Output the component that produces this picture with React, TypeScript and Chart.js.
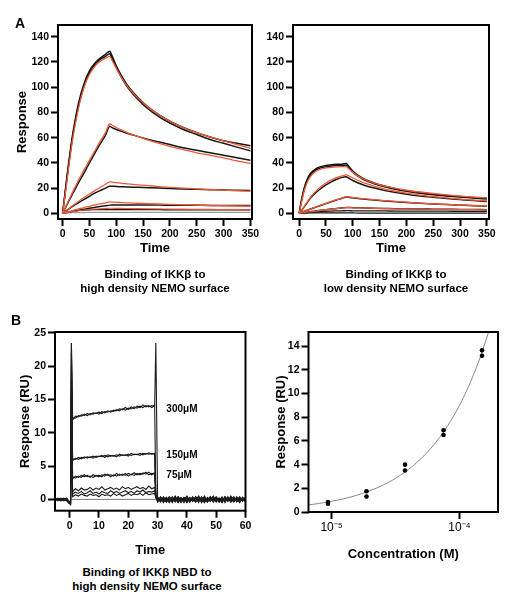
import React, { useEffect, useRef } from "react";
import { Chart, registerables } from "chart.js";
Chart.register(...registerables);

// ---------- fonts / colours ----------
const SANS = '"Liberation Sans", Arial, Helvetica, sans-serif';
const RED = "#ee5a36";
const BLACK = "#151515";
const GREY = "#9a9a9a";

// ---------- panel A data (time in s, response) ----------
const timeA = [0, 5, 10, 15, 20, 30, 40, 50, 60, 70, 80, 88, 92, 100, 110, 120, 140, 160, 180, 200, 225, 250, 275, 300, 325, 350];

// high density surface
const hiBlack1 = [0, 18, 36, 52, 66, 88, 103, 113, 119, 123, 126, 128.5, 125, 117, 109, 102, 92, 84, 78, 73, 68, 64, 60.5, 57.5, 55.5, 53.5];
const hiBlack2 = [0, 17, 34, 50, 64, 86, 101, 111.5, 118, 122, 124.5, 126.5, 123, 115.5, 107.5, 100.5, 90.5, 82.5, 76.5, 71.5, 66.5, 62.5, 58.5, 55.5, 52.5, 49.5];
const hiRed1 = [0, 15, 32, 48, 62, 84, 100, 110, 116.5, 120.5, 123, 124.5, 121.5, 115, 107.5, 101, 91.5, 84, 78, 73, 68, 64, 60.5, 57.5, 54.5, 51.5];
const hiBlack3 = [0, 4, 8.5, 12.5, 16.5, 24.5, 32, 40, 47.5, 55, 62, 69, 68, 66.5, 65, 63.5, 61, 58.5, 56.5, 54.5, 52, 50, 48, 46, 44, 42];
const hiRed2 = [0, 4.5, 9, 13.5, 18, 26.5, 34.5, 42, 49.5, 57, 64, 71, 70, 68, 66, 64, 61, 58, 55.5, 53, 50.5, 48, 46, 44, 41.5, 39.5];
const hiBlack4 = [0, 1.5, 3, 4.5, 6, 8.5, 11, 13.5, 16, 18, 20, 21.5, 21.5, 21.3, 21.1, 20.9, 20.6, 20.3, 20, 19.7, 19.3, 19, 18.7, 18.4, 18.2, 18];
const hiRed3 = [0, 1.6, 3.2, 4.8, 6.5, 9.5, 12.5, 15.3, 18, 20.5, 23, 25, 24.8, 24.3, 23.8, 23.4, 22.6, 21.9, 21.2, 20.6, 20, 19.4, 18.9, 18.4, 17.9, 17.5];
const hiBlack5 = [0, 0.4, 0.8, 1.2, 1.6, 2.4, 3.2, 4, 4.7, 5.4, 6, 6.5, 6.6, 6.6, 6.6, 6.6, 6.5, 6.5, 6.5, 6.4, 6.4, 6.4, 6.3, 6.3, 6.3, 6.3];
const hiRed4 = [0, 0.6, 1.2, 1.8, 2.4, 3.5, 4.6, 5.6, 6.6, 7.5, 8.3, 9, 8.9, 8.7, 8.5, 8.3, 8, 7.7, 7.4, 7.1, 6.8, 6.5, 6.2, 6, 5.8, 5.6];
const hiBlack6 = [0, 0.5, 1, 1.4, 1.8, 2.3, 2.6, 2.8, 2.9, 3, 3, 3, 3, 3, 3, 3, 2.9, 2.9, 2.9, 2.8, 2.8, 2.8, 2.7, 2.7, 2.7, 2.7];
const hiRed5 = [0, 0.4, 0.8, 1.2, 1.5, 2.1, 2.6, 3, 3.3, 3.6, 3.8, 4, 4, 3.9, 3.9, 3.8, 3.7, 3.6, 3.5, 3.4, 3.3, 3.2, 3.1, 3, 2.9, 2.8];
const hiBase = [0, 0.2, 0.3, 0.4, 0.5, 0.6, 0.6, 0.7, 0.7, 0.7, 0.7, 0.7, 0.7, 0.7, 0.7, 0.7, 0.7, 0.7, 0.7, 0.7, 0.7, 0.7, 0.7, 0.7, 0.7, 0.7];

// low density surface
const loBlack1 = [0, 12, 21, 27, 31, 35, 37, 38, 38.5, 39, 39, 39.5, 37.5, 33.5, 30, 27.5, 24, 21.5, 19.5, 18, 16.5, 15.2, 14.2, 13.3, 12.6, 12];
const loBlack2 = [0, 11, 20, 26, 30, 34, 36, 37, 37.5, 38, 38, 38.2, 36.5, 32.5, 29.2, 26.8, 23.4, 21, 19, 17.5, 16, 14.8, 13.8, 12.9, 12.1, 11.4];
const loRed1 = [0, 10, 18.5, 24.5, 28.5, 33, 35, 36, 36.5, 36.8, 37, 37, 35.5, 32.5, 29.5, 27.2, 24, 21.6, 19.8, 18.3, 16.9, 15.7, 14.6, 13.7, 12.9, 12.2];
const loBlack3 = [0, 2.5, 5.5, 8.5, 11.5, 16, 19.5, 22.5, 25, 27, 28.5, 29, 28, 26, 24, 22.5, 20, 18, 16.5, 15.2, 13.8, 12.7, 11.7, 10.9, 10.1, 9.4];
const loRed2 = [0, 2.7, 5.8, 9, 12, 17, 21, 24, 26.5, 28.3, 29.7, 30.5, 29.8, 28, 26, 24.3, 21.5, 19.2, 17.5, 16, 14.5, 13.3, 12.2, 11.3, 10.5, 9.8];
const loBlack4 = [0, 0.8, 1.6, 2.4, 3.2, 4.7, 6.2, 7.7, 9.2, 10.6, 12, 13, 12.8, 12.3, 11.8, 11.3, 10.5, 9.8, 9.2, 8.6, 8, 7.4, 6.9, 6.5, 6.1, 5.8];
const loRed3 = [0, 0.85, 1.7, 2.5, 3.3, 4.9, 6.4, 7.9, 9.4, 10.8, 12.1, 13.2, 13, 12.6, 12.1, 11.6, 10.8, 10.1, 9.4, 8.8, 8.1, 7.5, 7, 6.6, 6.2, 5.9];
const loBlack5 = [0, 0.3, 0.6, 0.9, 1.2, 1.8, 2.4, 2.9, 3.4, 3.9, 4.3, 4.6, 4.6, 4.5, 4.4, 4.3, 4.1, 3.9, 3.7, 3.6, 3.4, 3.3, 3.2, 3.1, 3, 2.9];
const loRed4 = [0, 0.3, 0.6, 0.9, 1.2, 1.8, 2.4, 2.9, 3.4, 3.8, 4.2, 4.5, 4.5, 4.4, 4.3, 4.2, 4, 3.8, 3.6, 3.5, 3.3, 3.2, 3.1, 3, 2.9, 2.8];
const loBlack6 = [0, 0.2, 0.4, 0.6, 0.8, 1.1, 1.4, 1.6, 1.8, 1.9, 2, 2.1, 2.1, 2, 2, 2, 1.9, 1.9, 1.8, 1.8, 1.7, 1.7, 1.7, 1.6, 1.6, 1.6];
const loBase = [0, 0.1, 0.2, 0.2, 0.3, 0.3, 0.3, 0.3, 0.3, 0.3, 0.3, 0.3, 0.3, 0.3, 0.2, 0.2, 0.2, 0.2, 0.2, 0.2, 0.2, 0.2, 0.2, 0.2, 0.2, 0.2];

const ticksAX = [0, 50, 100, 150, 200, 250, 300, 350];
const ticksAY = [0, 20, 40, 60, 80, 100, 120, 140];

// ---------- panel B left: NBD sensorgrams ----------
const bTime = [
  -5, -4, -3, -2, -1, -0.4, 0.3, 0.6,
  1, 2, 3, 4, 5, 6, 7, 8, 9, 10, 11, 12, 13, 14, 15, 16, 17, 18, 19, 20, 21, 22, 23, 24, 25, 26, 27, 28, 29,
  29.4,
  30, 31, 32, 33, 34, 35, 36, 37, 38, 39, 40, 41, 42, 43, 44, 45, 46, 47, 48, 49, 50, 51, 52, 53, 54, 55, 56, 57, 58, 59, 60,
];
const b300a = [
  0.1, -0.1, 0.2, 0, -0.2, -0.5, -0.7, 23.5,
  11.9, 12.5, 12.4, 12.7, 12.6, 12.9, 12.7, 13.0, 12.9, 13.1, 12.9, 13.2, 13.1, 13.3, 13.2, 13.5, 13.3, 13.6, 13.4, 13.7, 13.6, 13.9, 13.7, 14.0, 13.8, 14.1, 13.9, 14.1, 14.0,
  23.5,
  0.4, -0.3, 0.2, -0.4, 0.3, -0.2, 0.5, -0.3, 0.1, -0.5, 0.3, -0.1, 0.4, -0.4, 0.2, -0.2, 0.5, -0.3, 0.3, -0.1, 0.4, -0.4, 0.2, -0.3, 0.4, -0.2, 0.3, -0.4, 0.2, -0.1, 0.3,
];
const b300b = [
  -0.1, 0.1, -0.2, 0.1, 0, -0.3, -0.5, 22,
  12.3, 12.2, 12.6, 12.5, 12.8, 12.6, 12.9, 12.8, 13.0, 12.8, 13.2, 13.0, 13.3, 13.1, 13.4, 13.3, 13.6, 13.5, 13.8, 13.5, 13.9, 13.6, 14.0, 13.8, 14.2, 13.9, 14.1, 13.8, 14.1,
  0.8,
  -0.2, 0.3, -0.5, 0.2, -0.3, 0.4, -0.4, 0.1, -0.2, 0.3, -0.5, 0.2, -0.3, 0.4, -0.1, 0.3, -0.4, 0.2, -0.2, 0.5, -0.3, 0.1, -0.4, 0.3, -0.2, 0.4, -0.3, 0.2, -0.5, 0.3, -0.2,
];
const b150a = [
  0, 0.2, -0.1, 0.1, -0.1, -0.4, -0.6, 23.5,
  5.8, 6.2, 6.0, 6.3, 6.2, 6.4, 6.3, 6.5, 6.3, 6.5, 6.4, 6.6, 6.4, 6.6, 6.5, 6.7, 6.5, 6.7, 6.6, 6.8, 6.6, 6.8, 6.7, 6.9, 6.7, 6.9, 6.8, 6.9, 6.8,
  0.6,
  0.2, -0.4, 0.3, -0.1, 0.4, -0.3, 0.2, -0.5, 0.3, -0.2, 0.1, -0.4, 0.3, -0.2, 0.5, -0.1, 0.2, -0.4, 0.3, -0.3, 0.1, -0.2, 0.4, -0.5, 0.2, -0.1, 0.3, -0.3, 0.4, -0.2, 0.1,
];
const b150b = [
  0.1, -0.2, 0.1, -0.1, 0.2, -0.2, -0.4, 18,
  6.1, 6.0, 6.3, 6.1, 6.4, 6.2, 6.4, 6.2, 6.5, 6.4, 6.6, 6.3, 6.7, 6.5, 6.6, 6.4, 6.8, 6.6, 6.7, 6.5, 6.9, 6.7, 6.8, 6.6, 6.9, 6.8, 7.0, 6.8, 6.9,
  0.5,
  -0.4, 0.1, -0.2, 0.3, -0.5, 0.2, -0.1, 0.4, -0.3, 0.2, -0.4, 0.3, -0.1, 0.2, -0.5, 0.4, -0.2, 0.1, -0.3, 0.3, -0.4, 0.2, -0.1, 0.3, -0.3, 0.5, -0.2, 0.1, -0.4, 0.2, -0.3,
];
const b75a = [
  -0.2, 0, 0.1, -0.1, 0.1, -0.5, -0.8, 20,
  3.1, 3.5, 3.3, 3.6, 3.4, 3.6, 3.3, 3.7, 3.5, 3.6, 3.4, 3.8, 3.6, 3.7, 3.5, 3.9, 3.6, 3.8, 3.6, 3.9, 3.7, 4.0, 3.7, 3.9, 3.8, 4.1, 3.7, 3.9, 3.8,
  0.4,
  0.3, -0.1, 0.2, -0.4, 0.1, -0.2, 0.4, -0.3, 0.2, -0.1, 0.5, -0.4, 0.2, -0.2, 0.3, -0.5, 0.1, -0.3, 0.4, -0.2, 0.2, -0.4, 0.1, -0.1, 0.3, -0.4, 0.2, -0.2, 0.3, -0.3, 0.2,
];
const b75b = [
  0.2, -0.1, 0, 0.2, -0.1, -0.3, -0.5, 16,
  3.4, 3.2, 3.5, 3.3, 3.7, 3.4, 3.5, 3.3, 3.6, 3.4, 3.7, 3.5, 3.8, 3.4, 3.7, 3.5, 3.8, 3.6, 3.9, 3.5, 3.8, 3.6, 3.9, 3.7, 4.0, 3.8, 4.1, 3.7, 4.0,
  0.3,
  -0.3, 0.4, -0.2, 0.1, -0.4, 0.3, -0.1, 0.2, -0.5, 0.3, -0.2, 0.1, -0.3, 0.4, -0.2, 0.2, -0.4, 0.3, -0.1, 0.2, -0.3, 0.1, -0.5, 0.4, -0.2, 0.2, -0.3, 0.4, -0.1, 0.2, -0.4,
];
const b37 = [
  0, 0.1, -0.2, 0.1, 0, -0.4, -0.6, 14,
  1.2, 1.6, 1.3, 1.7, 1.4, 1.5, 1.8, 1.4, 1.7, 1.5, 1.9, 1.4, 1.6, 1.8, 1.5, 1.7, 1.4, 1.9, 1.6, 1.8, 1.5, 1.7, 1.9, 1.6, 1.8, 1.5, 2.0, 1.6, 1.8,
  0.5,
  0.1, -0.3, 0.4, -0.2, 0.2, -0.5, 0.3, -0.1, 0.2, -0.3, 0.4, -0.2, 0.1, -0.4, 0.3, -0.3, 0.2, -0.1, 0.4, -0.4, 0.3, -0.2, 0.1, -0.3, 0.2, -0.1, 0.4, -0.3, 0.1, -0.2, 0.3,
];
const b18 = [
  0.1, -0.1, 0.1, -0.2, 0.1, -0.3, -0.5, 12,
  0.8, 1.1, 0.9, 1.2, 0.8, 1.0, 1.3, 0.9, 1.1, 0.8, 1.2, 1.0, 0.9, 1.3, 1.0, 1.2, 0.9, 1.1, 1.3, 1.0, 1.2, 0.9, 1.3, 1.1, 1.4, 1.0, 1.2, 1.1, 1.3,
  0.3,
  -0.1, 0.2, -0.4, 0.3, -0.2, 0.1, -0.3, 0.4, -0.1, 0.2, -0.4, 0.1, -0.2, 0.3, -0.3, 0.2, -0.5, 0.1, -0.2, 0.3, -0.1, 0.2, -0.3, 0.4, -0.2, 0.1, -0.4, 0.2, -0.2, 0.3, -0.1,
];
const b9 = [
  -0.1, 0.1, 0, 0.1, -0.2, -0.4, -0.7, 10,
  0.4, 0.7, 0.5, 0.8, 0.6, 0.5, 0.8, 0.6, 0.7, 0.4, 0.8, 0.6, 0.7, 0.5, 0.9, 0.6, 0.8, 0.5, 0.7, 0.9, 0.6, 0.8, 0.7, 0.9, 0.6, 1.0, 0.7, 0.8, 0.9,
  0.2,
  0.2, -0.2, 0.1, -0.3, 0.3, -0.1, 0.2, -0.4, 0.1, -0.2, 0.3, -0.1, 0.2, -0.3, 0.1, -0.2, 0.3, -0.4, 0.2, -0.1, 0.3, -0.2, 0.1, -0.3, 0.2, -0.4, 0.1, -0.1, 0.3, -0.2, 0.2,
];
const bRefTime = [0.6, 29.4];
const bRefValues = [0, 0];
const bLabels = ["300\u03bcM", "150\u03bcM", "75\u03bcM"];
const bLabelY = [13.6, 6.6, 3.7];
const bLabelX = 33;
const ticksBX = [0, 10, 20, 30, 40, 50, 60];
const ticksBY = [0, 5, 10, 15, 20, 25];

// ---------- panel B right: steady-state response vs concentration ----------
const concM = [9.375e-6, 9.375e-6, 1.875e-5, 1.875e-5, 3.75e-5, 3.75e-5, 7.5e-5, 7.5e-5, 1.5e-4, 1.5e-4];
const respRU = [0.85, 0.7, 1.75, 1.3, 4.0, 3.5, 6.9, 6.5, 13.65, 13.2];
const fitConc = [6.6e-6, 8e-6, 1e-5, 1.25e-5, 1.5e-5, 2e-5, 2.5e-5, 3e-5, 4e-5, 5e-5, 6e-5, 7e-5, 8.5e-5, 1e-4, 1.15e-4, 1.3e-4, 1.5e-4, 1.7e-4];
const fitResp = [0.6, 0.72, 0.9, 1.12, 1.35, 1.8, 2.25, 2.7, 3.6, 4.5, 5.4, 6.3, 7.65, 9.0, 10.35, 11.7, 13.5, 15.3];
const ticksCX = [1e-5, 1e-4];
const ticksCXLabels = ["10\u207b\u2075", "10\u207b\u2074"];
const ticksCY = [0, 2, 4, 6, 8, 10, 12, 14];

// ---------- layout ----------
type Box = { left: number; top: number; width: number; height: number };
type Area = { left: number; top: number; right: number; bottom: number };

const TITLE_SIZE = 13;
const TICK_SIZE = 10.5;

const framePlugin = {
  id: "frame",
  afterDatasetsDraw(chart: any) {
    const { ctx, chartArea: a } = chart;
    ctx.save();
    ctx.strokeStyle = "#000";
    ctx.lineWidth = 2;
    ctx.strokeRect(a.left, a.top, a.right - a.left, a.bottom - a.top);
    ctx.restore();
  },
};

function pts(times: number[], values: number[]) {
  return values.map((v, i) => ({ x: times[i], y: v }));
}

function curve(times: number[], values: number[], color: string, width: number, order: number, smooth = true) {
  return {
    data: pts(times, values),
    borderColor: color,
    backgroundColor: color,
    borderWidth: width,
    pointRadius: 0,
    fill: false,
    tension: 0,
    cubicInterpolationMode: smooth ? "monotone" : "default",
    order,
  };
}

function axis(opts: {
  type?: string;
  min: number;
  max: number;
  ticks: number[];
  labels?: string[];
  fontWeight?: string;
  fontSize?: number;
  horizontal: boolean;
  size: number;
  title?: string;
  titleCenter?: number;
  tickPad: number;
}) {
  const lh = TITLE_SIZE * 1.2;
  const title = opts.title
    ? {
        display: true,
        text: opts.title,
        color: "#000",
        font: { family: SANS, size: TITLE_SIZE, weight: "bold" },
        padding: opts.horizontal
          ? { top: 0, bottom: opts.size - (opts.titleCenter as number) - lh / 2 }
          : { top: (opts.titleCenter as number) - lh / 2, bottom: 0 },
      }
    : { display: false };
  return {
    type: opts.type || "linear",
    min: opts.min,
    max: opts.max,
    grid: {
      display: true,
      drawOnChartArea: false,
      drawTicks: true,
      tickLength: 7,
      tickWidth: 2,
      tickColor: "#000",
      color: "#000",
    },
    border: { display: false },
    ticks: {
      autoSkip: false,
      maxRotation: 0,
      minRotation: 0,
      padding: opts.tickPad,
      color: "#000",
      font: { family: SANS, size: opts.fontSize || TICK_SIZE, weight: opts.fontWeight || "bold" },
      callback: (v: number) => {
        const i = opts.ticks.indexOf(v);
        if (opts.labels) return i >= 0 ? opts.labels[i] : "";
        return String(v);
      },
    },
    afterBuildTicks: (s: any) => {
      s.ticks = opts.ticks.map((v) => ({ value: v }));
    },
    afterFit: (s: any) => {
      if (opts.horizontal) s.height = opts.size;
      else s.width = opts.size;
    },
    title,
  };
}

function makeOptions(box: Box, area: Area, x: any, y: any) {
  return {
    responsive: false,
    maintainAspectRatio: false,
    animation: false,
    events: [],
    devicePixelRatio: 1,
    layout: {
      padding: { left: 0, top: area.top - box.top, right: box.left + box.width - area.right, bottom: 0 },
    },
    plugins: { legend: { display: false }, tooltip: { enabled: false }, title: { display: false } },
    scales: { x, y },
  };
}

function Panel({ box, build }: { box: Box; build: () => any }) {
  const ref = useRef<HTMLCanvasElement>(null);
  useEffect(() => {
    const chart = new Chart(ref.current as HTMLCanvasElement, build());
    return () => chart.destroy();
  }, []);
  return (
    <div style={{ position: "absolute", left: box.left, top: box.top, width: box.width, height: box.height }}>
      <canvas ref={ref} width={box.width} height={box.height} style={{ width: box.width, height: box.height, display: "block" }} />
    </div>
  );
}

// ---------- panel geometry ----------
const boxAL: Box = { left: 0, top: 0, width: 266, height: 262 };
const areaAL: Area = { left: 58, top: 25, right: 252, bottom: 219 };
const boxAR: Box = { left: 266, top: 0, width: 250, height: 262 };
const areaAR: Area = { left: 293, top: 25, right: 489, bottom: 219 };
const boxBL: Box = { left: 0, top: 315, width: 262, height: 250 };
const areaBL: Area = { left: 55, top: 332, right: 245.5, bottom: 510.7 };
const boxBR: Box = { left: 262, top: 315, width: 254, height: 255 };
const areaBR: Area = { left: 308.5, top: 332, right: 498, bottom: 512 };

function buildAL() {
  const datasets = [
    curve(timeA, hiRed1, RED, 1.3, 0),
    curve(timeA, hiRed2, RED, 1.3, 0),
    curve(timeA, hiRed3, RED, 1.3, 0),
    curve(timeA, hiRed4, RED, 1.3, 0),
    curve(timeA, hiRed5, RED, 1.1, 0),
    curve(timeA, hiBlack1, BLACK, 1.5, 1),
    curve(timeA, hiBlack2, BLACK, 1.5, 1),
    curve(timeA, hiBlack3, BLACK, 1.5, 1),
    curve(timeA, hiBlack4, BLACK, 1.5, 1),
    curve(timeA, hiBlack5, BLACK, 1.5, 1),
    curve(timeA, hiBlack6, BLACK, 1.3, 1),
    curve(timeA, hiBase, GREY, 1.2, 2),
  ];
  const x = axis({ min: -8.6, max: 353, ticks: ticksAX, horizontal: true, size: boxAL.top + boxAL.height - areaAL.bottom, title: "Time", titleCenter: 248 - areaAL.bottom, tickPad: 2 });
  const y = axis({ min: -4.5, max: 149.3, ticks: ticksAY, horizontal: false, size: areaAL.left - boxAL.left, title: "Response", titleCenter: 22 - boxAL.left, tickPad: 2 });
  return { type: "line", data: { datasets }, options: makeOptions(boxAL, areaAL, x, y), plugins: [framePlugin] };
}

function buildAR() {
  const datasets = [
    curve(timeA, loRed1, RED, 1.3, 0),
    curve(timeA, loRed2, RED, 1.3, 0),
    curve(timeA, loRed3, RED, 1.3, 0),
    curve(timeA, loRed4, RED, 1.2, 0),
    curve(timeA, loBlack1, BLACK, 1.5, 1),
    curve(timeA, loBlack2, BLACK, 1.5, 1),
    curve(timeA, loBlack3, BLACK, 1.5, 1),
    curve(timeA, loBlack4, BLACK, 1.5, 1),
    curve(timeA, loBlack5, BLACK, 1.5, 1),
    curve(timeA, loBlack6, BLACK, 1.3, 1),
    curve(timeA, loBase, BLACK, 1.2, 2),
  ];
  const x = axis({ min: -11.5, max: 354, ticks: ticksAX, horizontal: true, size: boxAR.top + boxAR.height - areaAR.bottom, title: "Time", titleCenter: 248 - areaAR.bottom, tickPad: 2 });
  const y = axis({ min: -4.5, max: 149.3, ticks: ticksAY, horizontal: false, size: areaAR.left - boxAR.left, tickPad: 2 });
  return { type: "line", data: { datasets }, options: makeOptions(boxAR, areaAR, x, y), plugins: [framePlugin] };
}

function buildBL() {
  const traces = [b300a, b300b, b150a, b150b, b75a, b75b, b37, b18, b9];
  const datasets: any[] = traces.map((t) => curve(bTime, t, "#1c1c1c", 1.1, 1, false));
  datasets.push(curve(bRefTime, bRefValues, "#777", 1, 2, false));
  const labelPlugin = {
    id: "concLabels",
    afterDatasetsDraw(chart: any) {
      const { ctx, scales } = chart;
      ctx.save();
      ctx.fillStyle = "#000";
      ctx.font = `bold 10px ${SANS}`;
      ctx.textAlign = "left";
      ctx.textBaseline = "middle";
      bLabels.forEach((lab, i) => {
        ctx.fillText(lab, scales.x.getPixelForValue(bLabelX), scales.y.getPixelForValue(bLabelY[i]));
      });
      ctx.restore();
    },
  };
  const x = axis({ min: -5, max: 60, ticks: ticksBX, horizontal: true, size: boxBL.top + boxBL.height - areaBL.bottom, title: "Time", titleCenter: 550 - areaBL.bottom, tickPad: 2 });
  const y = axis({ min: -1.7, max: 25.15, ticks: ticksBY, horizontal: false, size: areaBL.left - boxBL.left, title: "Response (RU)", titleCenter: 25 - boxBL.left, tickPad: 2 });
  return { type: "line", data: { datasets }, options: makeOptions(boxBL, areaBL, x, y), plugins: [framePlugin, labelPlugin] };
}

function buildBR() {
  const datasets: any[] = [
    {
      type: "scatter",
      data: pts(concM, respRU),
      pointRadius: 2.3,
      pointBackgroundColor: "#000",
      pointBorderWidth: 0,
      showLine: false,
      order: 0,
    },
    { ...curve(fitConc, fitResp, "#8a8a8a", 1, 1, true), type: "line" },
  ];
  const x = axis({
    type: "logarithmic",
    min: 6.6e-6,
    max: 2.0e-4,
    ticks: ticksCX,
    labels: ticksCXLabels,
    fontWeight: "normal",
    fontSize: 12,
    horizontal: true,
    size: boxBR.top + boxBR.height - areaBR.bottom,
    title: "Concentration (M)",
    titleCenter: 554 - areaBR.bottom,
    tickPad: 1,
  });
  const y = axis({ min: 0, max: 15.2, ticks: ticksCY, horizontal: false, size: areaBR.left - boxBR.left, title: "Response (RU)", titleCenter: 281 - boxBR.left, tickPad: 2 });
  return { type: "line", data: { datasets }, options: makeOptions(boxBR, areaBR, x, y), plugins: [framePlugin] };
}

// ---------- captions ----------
const captionFont: React.CSSProperties = {
  position: "absolute",
  width: 220,
  textAlign: "center",
  fontFamily: SANS,
  fontWeight: "bold",
  fontSize: 11.5,
  lineHeight: "14.5px",
  color: "#000",
  whiteSpace: "nowrap",
};

function Caption({ cx, cy, lines }: { cx: number; cy: number; lines: string[] }) {
  return (
    <div style={{ ...captionFont, left: cx - 110, top: cy - 7.25 }}>
      {lines.map((l, i) => (
        <div key={i}>{l}</div>
      ))}
    </div>
  );
}

export default function App() {
  return (
    <div style={{ position: "absolute", left: 0, top: 0, width: 516, height: 600, overflow: "hidden", background: "#fff" }}>
      <Panel box={boxAL} build={buildAL} />
      <Panel box={boxAR} build={buildAR} />
      <Panel box={boxBL} build={buildBL} />
      <Panel box={boxBR} build={buildBR} />
      <div style={{ position: "absolute", left: 15, top: 14, fontFamily: SANS, fontWeight: "bold", fontSize: 14, lineHeight: "18px" }}>A</div>
      <div style={{ position: "absolute", left: 11, top: 311, fontFamily: SANS, fontWeight: "bold", fontSize: 14, lineHeight: "18px" }}>B</div>
      <Caption cx={155} cy={274} lines={["Binding of IKK\u03b2 to", "high density NEMO surface"]} />
      <Caption cx={396} cy={274} lines={["Binding of IKK\u03b2 to", "low density NEMO surface"]} />
      <Caption cx={147} cy={572} lines={["Binding of IKK\u03b2 NBD to", "high density NEMO surface"]} />
    </div>
  );
}
